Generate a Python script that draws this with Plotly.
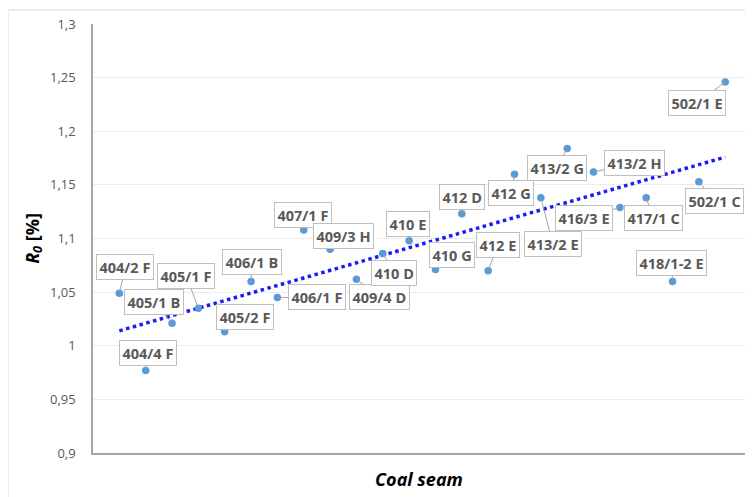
import numpy as np
import plotly.graph_objects as go

seams = ["404/2 F", "404/4 F", "405/1 B", "405/1 F", "405/2 F", "406/1 B", "406/1 F",
         "407/1 F", "409/3 H", "409/4 D", "410 D", "410 E", "410 G", "412 D", "412 E",
         "412 G", "413/2 E", "413/2 G", "413/2 H", "416/3 E", "417/1 C", "418/1-2 E",
         "502/1 C", "502/1 E"]
r0 = [1.049, 0.977, 1.021, 1.035, 1.013, 1.060, 1.045, 1.108, 1.090, 1.062, 1.086,
      1.098, 1.071, 1.123, 1.070, 1.160, 1.138, 1.184, 1.162, 1.129, 1.138, 1.060,
      1.153, 1.246]
# label box offsets (pixels) relative to each point
label_dx = [6, 2, -18, -12, 20, 1, 40, -1, 13, 23, 11, -1, 17, 0, 10, -3, 12, -10, 41, -36, 7, -1, 16, -28]
label_dy = [-26, -17, -21, -32, -15, -19, 0, -15, -13, 18, 19, -17, -15, -17, -26, 19, 46, 20, -9, 11, 20, -18, 19, 21]

y_tickvals = [0.9, 0.95, 1.0, 1.05, 1.1, 1.15, 1.2, 1.25, 1.3]
y_ticktext = ["0,9", "0,95", "1", "1,05", "1,1", "1,15", "1,2", "1,25", "1,3"]

x = np.arange(1, len(seams) + 1)
slope, intercept = np.polyfit(x, r0, 1)
trend_x = [x[0], x[-1]]
trend_y = [intercept + slope * v for v in trend_x]

fig = go.Figure()
fig.add_trace(go.Scatter(x=trend_x, y=trend_y, mode="lines",
                         line=dict(color="#1a1aff", width=3.5, dash="dot"),
                         hoverinfo="skip", showlegend=False))
fig.add_trace(go.Scatter(x=x, y=r0, mode="markers", text=seams,
                         marker=dict(color="#5b9bd5", size=7.5),
                         showlegend=False))

for xi, yi, name, dx, dy in zip(x, r0, seams, label_dx, label_dy):
    fig.add_annotation(x=xi, y=yi, text=name, showarrow=True, arrowhead=0,
                       arrowwidth=1, arrowcolor="#a6a6a6", ax=dx, ay=dy, axref="pixel", ayref="pixel",
                       font=dict(family="Open Sans", size=14.5, color="#595959", weight="bold"),
                       bgcolor="white", bordercolor="#bfbfbf", borderwidth=1, borderpad=2.5,
                       standoff=2)

fig.add_shape(type="rect", xref="paper", yref="paper",
              x0=-0.1304, x1=1.0046, y0=-0.12, y1=1.0326,
              line=dict(color="#d9d9d9", width=1), layer="below")

fig.update_layout(
    width=745, height=489,
    margin=dict(l=85, r=8, t=16, b=44),
    paper_bgcolor="white", plot_bgcolor="white",
    font=dict(family="Open Sans", color="#595959"),
    xaxis=dict(range=[0, 24.75], showticklabels=False, showgrid=False, zeroline=False,
               showline=True, linecolor="#a6a6a6", linewidth=1.5, ticks="",
               title=dict(text="<b><i>Coal seam</i></b>", font=dict(size=18, color="black"), standoff=20)),
    yaxis=dict(range=[0.9, 1.3], tickvals=y_tickvals, ticktext=y_ticktext,
               showgrid=True, gridcolor="#ececec", gridwidth=1, zeroline=False,
               showline=True, linecolor="#a6a6a6", linewidth=1.5, ticks="",
               ticklabelstandoff=13, tickfont=dict(size=13, color="#595959"),
               title=dict(text="<b><i>R</i><sub><i>0</i></sub> [%]</b>", font=dict(size=18, color="black"), standoff=6)),
)

fig.write_html("out.html")
